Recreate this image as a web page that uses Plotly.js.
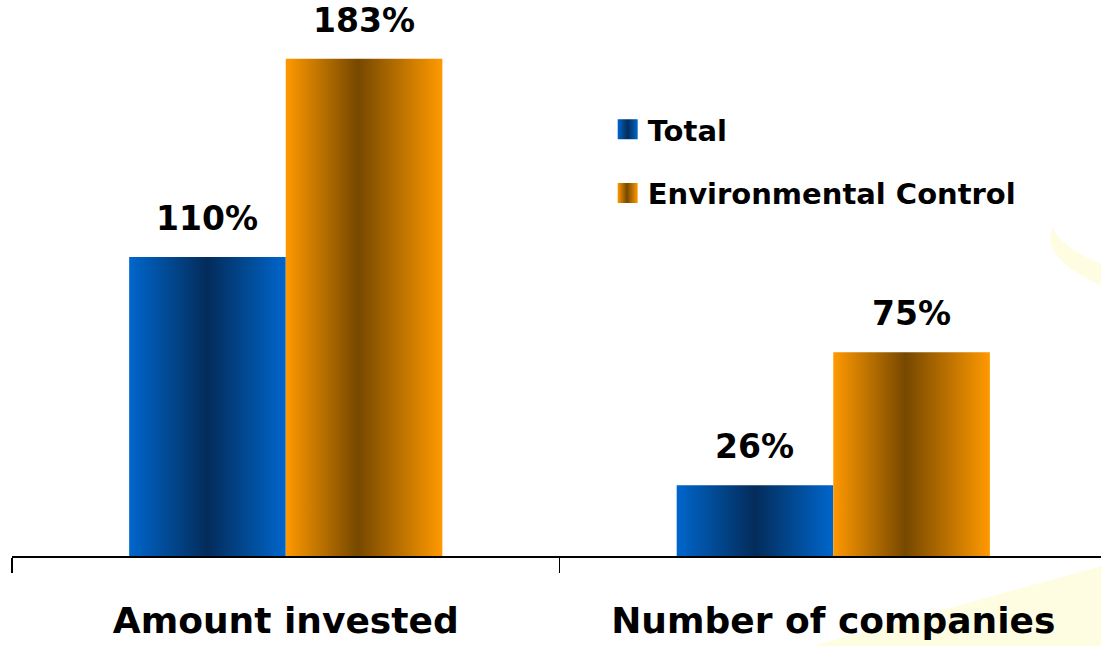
<!DOCTYPE html>
<html>
<head>
<meta charset="utf-8">
<script src="https://cdn.plot.ly/plotly-3.0.1.min.js"></script>
<style>
html,body{margin:0;padding:0;background:#fff;}
#chart{width:1101px;height:646px;}
</style>
</head>
<body>
<div id="chart"></div>
<script>
// ---- data ----
const categories = ["Amount invested", "Number of companies"];
const seriesNames = ["Total", "Environmental Control"];
const totalValues = [110, 26];
const envValues = [183, 75];
const valueSuffix = "%";

const FONT = "DejaVu Sans, Verdana, sans-serif";
const baseColors = ["#0066cc", "#ff9900"];

const traces = [
  {type: "bar", name: seriesNames[0], x: categories, y: totalValues,
   marker: {color: baseColors[0]}, legendgroup: "a", hoverinfo: "skip"},
  {type: "bar", name: seriesNames[1], x: categories, y: envValues,
   marker: {color: baseColors[1]}, legendgroup: "b", hoverinfo: "skip"}
];

// value labels as annotations built from the data arrays
const barHalf = 0.143;
const annotations = [];
[totalValues, envValues].forEach((vals, s) => {
  vals.forEach((v, i) => {
    annotations.push({
      x: i + (s === 0 ? -barHalf : barHalf), y: v, xref: "x", yref: "y",
      text: "<b>" + v + valueSuffix + "</b>", showarrow: false,
      yanchor: "bottom", yshift: 17,
      font: {family: FONT, size: 33, color: "#000"}
    });
  });
});

const layout = {
  width: 1101, height: 646,
  margin: {l: 12, r: 0, t: 0, b: 90},
  paper_bgcolor: "#ffffff", plot_bgcolor: "rgba(0,0,0,0)",
  barmode: "group", bargap: 0.428, bargroupgap: 0,
  showlegend: true,
  legend: {x: 0.547, y: 0.813, xanchor: "left", yanchor: "top",
           traceorder: "grouped", tracegroupgap: 23,
           font: {family: FONT, size: 29, color: "#000", weight: "bold"},
           bgcolor: "rgba(0,0,0,0)"},
  xaxis: {type: "category", range: [-0.5, 1.489], showline: true, linecolor: "#000", linewidth: 1.5,
          ticks: "outside", tickson: "boundaries", ticklen: 15, tickwidth: 1.5, tickcolor: "#000",
          ticklabelstandoff: 32,
          showgrid: false, zeroline: false, fixedrange: true,
          tickfont: {family: FONT, size: 36, color: "#000", weight: "bold"}},
  yaxis: {range: [0, 204.6], visible: false, showgrid: false, zeroline: false, fixedrange: true},
  annotations: annotations,
  shapes: [
    {type: "path", xref: "paper", yref: "paper", layer: "below",
     path: "M 0.72 -0.17 L 1.02 -0.0072 L 1.02 -0.17 Z",
     fillcolor: "rgba(255,248,170,0.35)", line: {width: 0}},
    {type: "path", xref: "paper", yref: "paper", layer: "below",
     path: "M 0.956 0.592 Q 0.94 0.53 1.02 0.47 L 1.02 0.51 Q 0.962 0.55 0.956 0.592 Z",
     fillcolor: "rgba(255,248,170,0.35)", line: {width: 0}}
  ]
};

function addGradients(gd) {
  const svg = gd.querySelector("svg.main-svg");
  if (!svg) return;
  const ns = "http://www.w3.org/2000/svg";
  let defs = svg.querySelector("defs");
  if (!defs) { defs = document.createElementNS(ns, "defs"); svg.insertBefore(defs, svg.firstChild); }
  const specs = [
    {id: "gBlue", stops: [[0, "#0066cc"], [0.5, "#032c5a"], [1, "#0066cc"]]},
    {id: "gOrange", stops: [[0, "#ff9900"], [0.46, "#764800"], [1, "#ff9900"]]}
  ];
  specs.forEach(sp => {
    if (defs.querySelector("#" + sp.id)) return;
    const lg = document.createElementNS(ns, "linearGradient");
    lg.setAttribute("id", sp.id);
    lg.setAttribute("x1", "0"); lg.setAttribute("y1", "0");
    lg.setAttribute("x2", "1"); lg.setAttribute("y2", "0");
    sp.stops.forEach(st => {
      const s = document.createElementNS(ns, "stop");
      s.setAttribute("offset", st[0]);
      s.setAttribute("stop-color", st[1]);
      lg.appendChild(s);
    });
    defs.appendChild(lg);
  });
  const ids = ["gBlue", "gOrange"];
  gd.querySelectorAll(".barlayer .trace").forEach((t, i) => {
    t.querySelectorAll("path").forEach(p => { p.style.fill = "url(#" + ids[i] + ")"; });
  });
  gd.querySelectorAll(".legend .traces").forEach((t, i) => {
    t.querySelectorAll(".legendpoints path").forEach(p => {
      p.setAttribute("d", "M10,10H-10V-10H10Z");
      p.style.fill = "url(#" + ids[i] + ")";
      p.style.stroke = "none";
    });
  });
}

const gd = document.getElementById("chart");
Plotly.newPlot(gd, traces, layout, {displayModeBar: false, staticPlot: true}).then(() => {
  addGradients(gd);
  gd.on && gd.on("plotly_afterplot", () => addGradients(gd));
});
</script>
</body>
</html>
